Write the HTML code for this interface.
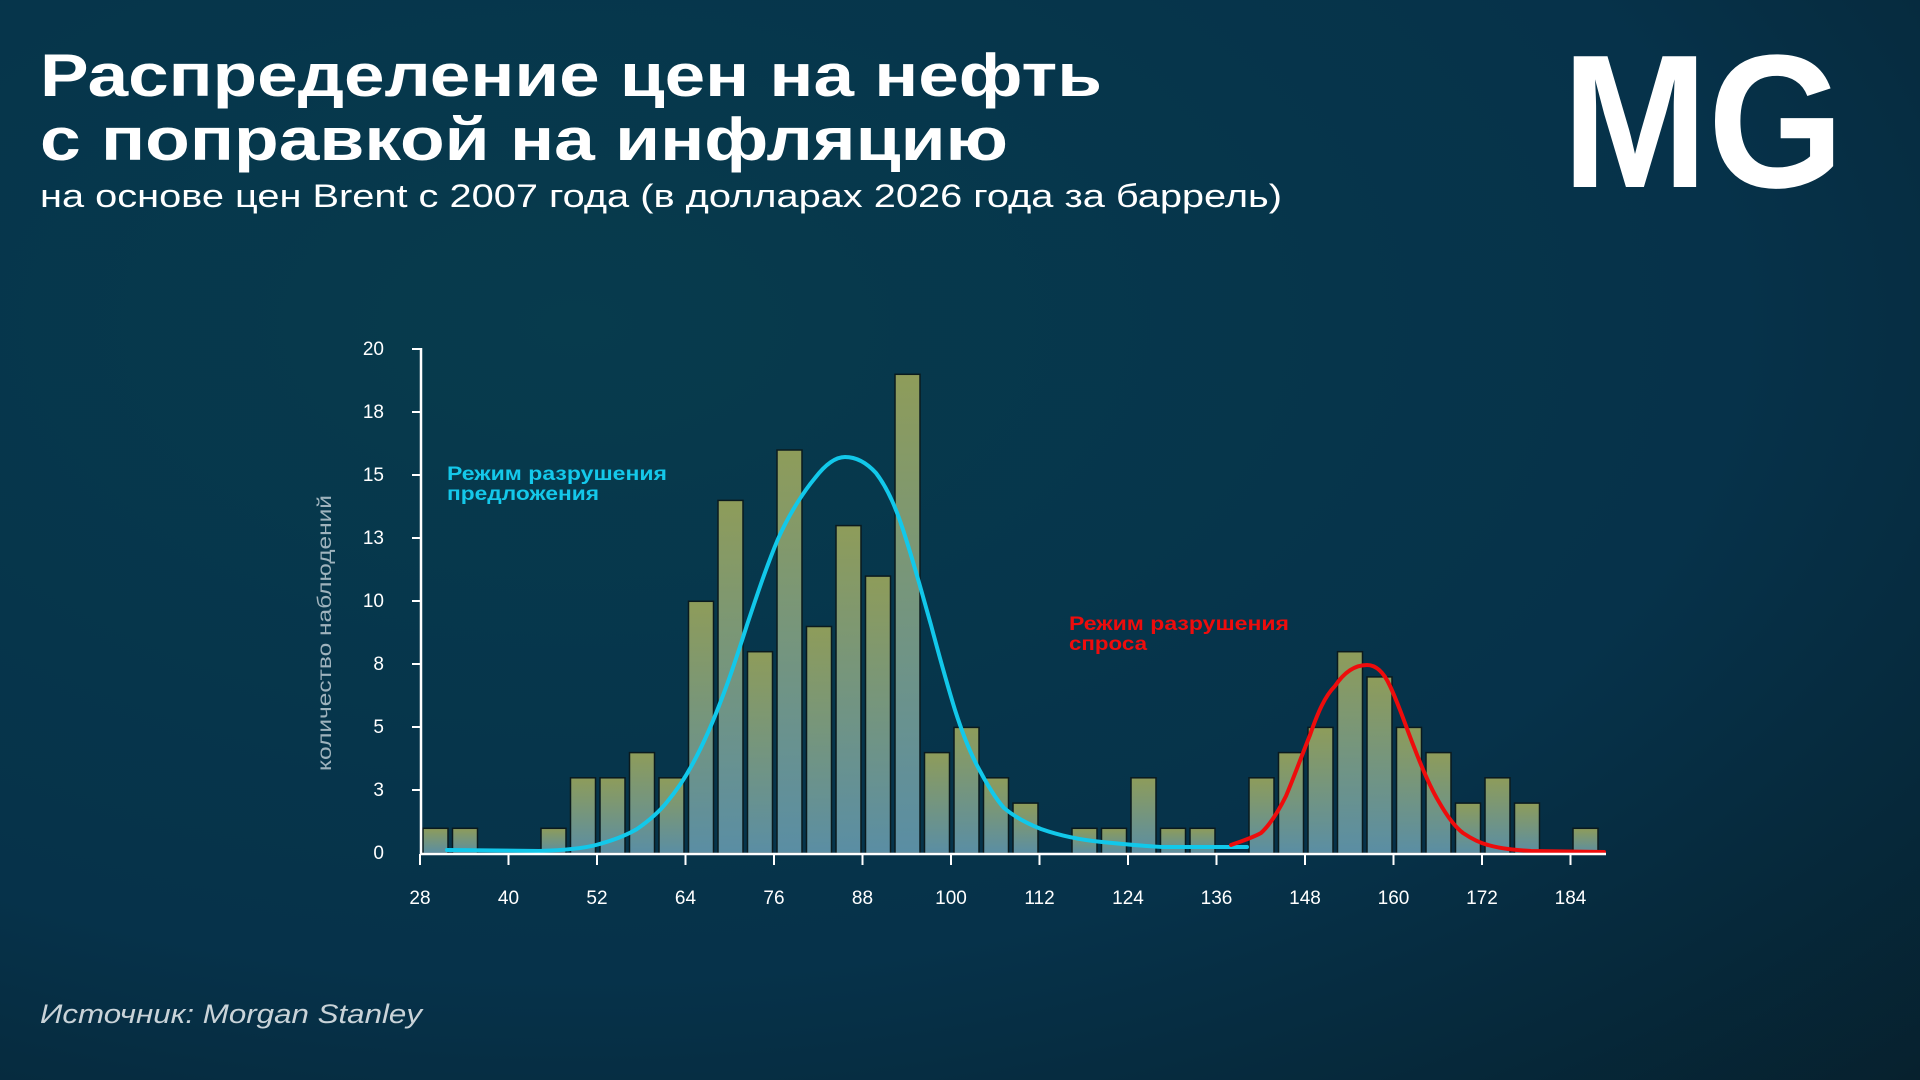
<!DOCTYPE html>
<html><head><meta charset="utf-8"><style>
html,body{margin:0;padding:0;width:1920px;height:1080px;overflow:hidden;background:#06384a}
svg{display:block}
</style></head><body>
<svg width="1920" height="1080" viewBox="0 0 1920 1080" xmlns="http://www.w3.org/2000/svg">
<defs>
<radialGradient id="bg" cx="0.3" cy="0.3" r="1.1">
<stop offset="0" stop-color="#073b4d"/><stop offset="0.55" stop-color="#06324a"/><stop offset="1" stop-color="#071c26"/>
</radialGradient>
<linearGradient id="bar" x1="0" y1="0" x2="0" y2="1">
<stop offset="0" stop-color="#8e9c5a"/><stop offset="1" stop-color="#5a8ea4"/>
</linearGradient>
</defs>
<rect width="1920" height="1080" fill="url(#bg)"/>
<g font-family="'Liberation Sans', sans-serif" fill="#fff">
<text x="40" y="96" font-size="60" font-weight="bold" textLength="1062" lengthAdjust="spacingAndGlyphs">Распределение цен на нефть</text>
<text x="40" y="160" font-size="60" font-weight="bold" textLength="968" lengthAdjust="spacingAndGlyphs">с поправкой на инфляцию</text>
<text x="40" y="207" font-size="32" textLength="1242" lengthAdjust="spacingAndGlyphs">на основе цен Brent с 2007 года (в долларах 2026 года за баррель)</text>
<text x="1562" y="187" font-size="190" font-weight="bold" textLength="282" lengthAdjust="spacingAndGlyphs">MG</text>
<text x="40" y="1023" font-size="27" font-style="italic" fill="#c9d3d8" textLength="382" lengthAdjust="spacingAndGlyphs">Источник:  Morgan Stanley</text>
</g>
<g fill="url(#bar)" stroke="#0a1a1e" stroke-width="1.5">
<rect x="423" y="828.3" width="25" height="25.2"/>
<rect x="452.5" y="828.3" width="25" height="25.2"/>
<rect x="541" y="828.3" width="25" height="25.2"/>
<rect x="570.5" y="777.8" width="25" height="75.7"/>
<rect x="600" y="777.8" width="25" height="75.7"/>
<rect x="629.5" y="752.6" width="25" height="100.9"/>
<rect x="659" y="777.8" width="25" height="75.7"/>
<rect x="688.5" y="601.3" width="25" height="252.2"/>
<rect x="718" y="500.4" width="25" height="353.1"/>
<rect x="747.5" y="651.7" width="25" height="201.8"/>
<rect x="777" y="450" width="25" height="403.5"/>
<rect x="806.5" y="626.5" width="25" height="227"/>
<rect x="836" y="525.6" width="25" height="327.9"/>
<rect x="865.5" y="576.1" width="25" height="277.4"/>
<rect x="895" y="374.3" width="25" height="479.2"/>
<rect x="924.5" y="752.6" width="25" height="100.9"/>
<rect x="954" y="727.4" width="25" height="126.1"/>
<rect x="983.5" y="777.8" width="25" height="75.7"/>
<rect x="1013" y="803.1" width="25" height="50.4"/>
<rect x="1072" y="828.3" width="25" height="25.2"/>
<rect x="1101.5" y="828.3" width="25" height="25.2"/>
<rect x="1131" y="777.8" width="25" height="75.7"/>
<rect x="1160.5" y="828.3" width="25" height="25.2"/>
<rect x="1190" y="828.3" width="25" height="25.2"/>
<rect x="1249" y="777.8" width="25" height="75.7"/>
<rect x="1278.5" y="752.6" width="25" height="100.9"/>
<rect x="1308" y="727.4" width="25" height="126.1"/>
<rect x="1337.5" y="651.7" width="25" height="201.8"/>
<rect x="1367" y="676.9" width="25" height="176.6"/>
<rect x="1396.5" y="727.4" width="25" height="126.1"/>
<rect x="1426" y="752.6" width="25" height="100.9"/>
<rect x="1455.5" y="803.1" width="25" height="50.4"/>
<rect x="1485" y="777.8" width="25" height="75.7"/>
<rect x="1514.5" y="803.1" width="25" height="50.4"/>
<rect x="1573" y="828.3" width="25" height="25.2"/>
</g>
<path d="M447,850 L539,851 C570,850 585,848 596,845 C615,840 627,835 637,829 C650,820 659,812 667,802 C677,790 685,778 692,765 C703,745 713,722 722,698 C731,675 739,650 747,625 C757,595 767,565 778,539 C790,512 805,490 815,478 C825,465 835,457 845,457 C855,457 866,462 876,473 C889,490 898,513 906,539 C915,567 923,597 931,625 C939,655 947,684 955,710 C963,735 971,755 980,771 C988,786 996,799 1004,808 C1016,818 1028,824 1041,829 C1061,836 1081,840 1102,842 C1122,844 1142,846 1163,847 L1247,847" fill="none" stroke="#12c8ea" stroke-width="4" stroke-linecap="round"/>
<path d="M1231,845 C1242,841 1252,838 1261,833 C1271,824 1279,810 1286,796 C1294,777 1302,755 1310,735 C1318,712 1325,696 1335,686 C1345,671 1356,665 1367,665 C1378,665 1385,675 1390,686 C1399,705 1406,727 1414,747 C1422,768 1430,787 1439,802 C1447,816 1455,827 1463,833 C1472,839 1480,843 1488,845 C1502,849 1516,850 1531,851 L1604,852" fill="none" stroke="#ee0c0c" stroke-width="4" stroke-linecap="round"/>
<g stroke="#fff" stroke-width="2.5" fill="none">
<line x1="421" y1="348" x2="421" y2="854"/>
<line x1="420" y1="854" x2="1606" y2="854"/>
</g>
<g stroke="#fff" stroke-width="2">
<line x1="412" y1="349" x2="421" y2="349"/><line x1="412" y1="412" x2="421" y2="412"/>
<line x1="412" y1="475" x2="421" y2="475"/><line x1="412" y1="538" x2="421" y2="538"/>
<line x1="412" y1="601" x2="421" y2="601"/><line x1="412" y1="664" x2="421" y2="664"/>
<line x1="412" y1="727" x2="421" y2="727"/><line x1="412" y1="790" x2="421" y2="790"/>
<line x1="420" y1="854" x2="420" y2="865"/><line x1="508.5" y1="854" x2="508.5" y2="865"/>
<line x1="597" y1="854" x2="597" y2="865"/><line x1="685.5" y1="854" x2="685.5" y2="865"/>
<line x1="774" y1="854" x2="774" y2="865"/><line x1="862.5" y1="854" x2="862.5" y2="865"/>
<line x1="951" y1="854" x2="951" y2="865"/><line x1="1039.5" y1="854" x2="1039.5" y2="865"/>
<line x1="1128" y1="854" x2="1128" y2="865"/><line x1="1216.5" y1="854" x2="1216.5" y2="865"/>
<line x1="1305" y1="854" x2="1305" y2="865"/><line x1="1393.5" y1="854" x2="1393.5" y2="865"/>
<line x1="1482" y1="854" x2="1482" y2="865"/><line x1="1570.5" y1="854" x2="1570.5" y2="865"/>
</g>
<g font-family="'Liberation Sans', sans-serif" font-size="19" fill="#fff" text-anchor="end">
<text x="384" y="355">20</text><text x="384" y="418">18</text><text x="384" y="481">15</text>
<text x="384" y="544">13</text><text x="384" y="607">10</text><text x="384" y="670">8</text>
<text x="384" y="733">5</text><text x="384" y="796">3</text><text x="384" y="859">0</text>
</g>
<g font-family="'Liberation Sans', sans-serif" font-size="19" fill="#fff" text-anchor="middle">
<text x="420" y="904">28</text><text x="508.5" y="904">40</text><text x="597" y="904">52</text>
<text x="685.5" y="904">64</text><text x="774" y="904">76</text><text x="862.5" y="904">88</text>
<text x="951" y="904">100</text><text x="1039.5" y="904">112</text><text x="1128" y="904">124</text>
<text x="1216.5" y="904">136</text><text x="1305" y="904">148</text><text x="1393.5" y="904">160</text>
<text x="1482" y="904">172</text><text x="1570.5" y="904">184</text>
</g>
<text transform="translate(331,633) rotate(-90)" text-anchor="middle" font-family="'Liberation Sans', sans-serif" font-size="19" fill="#9fb3bd" textLength="276" lengthAdjust="spacingAndGlyphs">количество наблюдений</text>
<g font-family="'Liberation Sans', sans-serif" font-size="19" font-weight="bold">
<text x="447" y="480" fill="#14c8ea" textLength="220" lengthAdjust="spacingAndGlyphs">Режим разрушения</text>
<text x="447" y="500" fill="#14c8ea" textLength="152" lengthAdjust="spacingAndGlyphs">предложения</text>
<text x="1069" y="630" fill="#ee0c0c" textLength="220" lengthAdjust="spacingAndGlyphs">Режим разрушения</text>
<text x="1069" y="650" fill="#ee0c0c" textLength="78" lengthAdjust="spacingAndGlyphs">спроса</text>
</g>
</svg>
</body></html>
